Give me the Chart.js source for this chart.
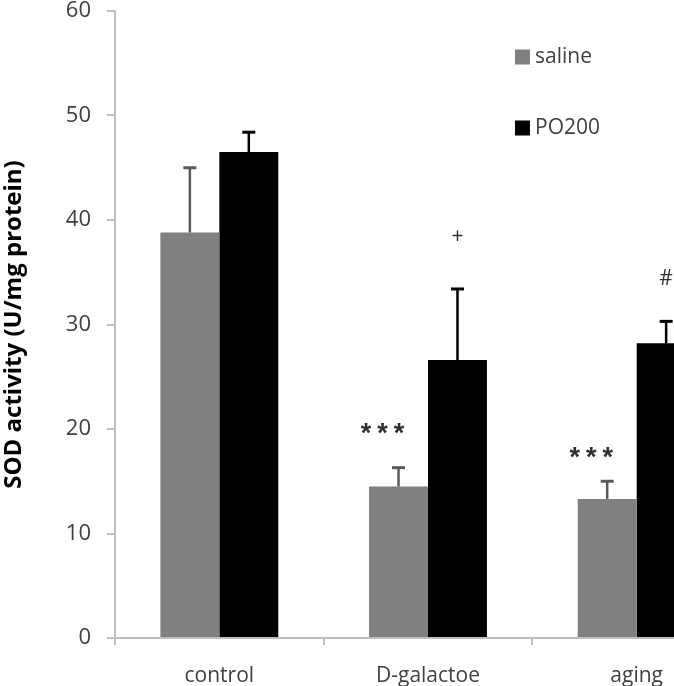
<!DOCTYPE html>
<html>
<head>
<meta charset="utf-8">
<script src="https://cdn.jsdelivr.net/npm/chart.js@4.4.1/dist/chart.umd.min.js"></script>
<style>
  html, body { margin: 0; padding: 0; background: #fff; overflow: hidden; }
  #wrap { width: 748px; height: 686px; }
</style>
</head>
<body>
<div id="wrap"><canvas id="c" width="748" height="686"></canvas></div>
<script>
// ---- data ----
const categories = ["control", "D-galactoe", "aging"];
const salineValues = [38.8, 14.5, 13.3];
const salineErrors = [6.2, 1.8, 1.7];
const po200Values = [46.5, 26.6, 28.2];
const po200Errors = [1.9, 6.8, 2.1];
const yTicks = [0, 10, 20, 30, 40, 50, 60];
const seriesLabels = ["saline", "PO200"];
// significance marks: [category index, dataset index, text, y value]
const marks = [
  [1, 0, "***", 20.0],
  [1, 1, "+", 38.4],
  [2, 0, "***", 17.7],
  [2, 1, "#", 34.4]
];

const FONT = "'Open Sans', 'Noto Sans', sans-serif";
const TEXT = "#404040";
const AXIS = "#bfbfbf";

const errorBars = {
  id: "errorBars",
  afterDatasetsDraw(chart) {
    const ctx = chart.ctx;
    const y = chart.scales.y;
    const errs = [salineErrors, po200Errors];
    const cols = ["#5a5a5a", "#000000"];
    chart.data.datasets.forEach((ds, di) => {
      const meta = chart.getDatasetMeta(di);
      meta.data.forEach((bar, i) => {
        const top = y.getPixelForValue(ds.data[i] + errs[di][i]);
        const base = y.getPixelForValue(ds.data[i]);
        ctx.save();
        ctx.strokeStyle = cols[di];
        ctx.lineWidth = 2.5;
        ctx.beginPath();
        ctx.moveTo(bar.x, base);
        ctx.lineTo(bar.x, top);
        ctx.stroke();
        ctx.lineWidth = 3;
        ctx.beginPath();
        ctx.moveTo(bar.x - 6.5, top);
        ctx.lineTo(bar.x + 6.5, top);
        ctx.stroke();
        ctx.restore();
      });
    });
    // significance marks
    ctx.save();
    ctx.fillStyle = "#303030";
    ctx.textAlign = "center";
    ctx.textBaseline = "middle";
    marks.forEach(([ci, di, txt, v]) => {
      const bar = chart.getDatasetMeta(di).data[ci];
      const py = y.getPixelForValue(v);
      if (txt === "***") {
        ctx.font = "bold 27px 'Liberation Sans', sans-serif";
        ctx.letterSpacing = "6px";
        ctx.fillText(txt, bar.x - 13, py + 6);
        ctx.letterSpacing = "0px";
      } else {
        ctx.font = "21px " + FONT;
        ctx.fillText(txt, bar.x, py);
      }
    });
    ctx.restore();
  }
};

const customLegend = {
  id: "customLegend",
  afterDraw(chart) {
    const ctx = chart.ctx;
    const a = chart.chartArea;
    ctx.save();
    ctx.font = "21px " + FONT;
    ctx.textBaseline = "middle";
    ctx.textAlign = "left";
    chart.data.datasets.forEach((ds, i) => {
      const bx = a.left + 400;
      const cy = a.top + 46 + i * 71;
      ctx.fillStyle = ds.backgroundColor;
      ctx.fillRect(bx, cy - 7.5, 15, 15);
      ctx.fillStyle = TEXT;
      ctx.fillText(ds.label, bx + 20, cy);
    });
    ctx.restore();
  }
};

new Chart(document.getElementById("c"), {
  type: "bar",
  data: {
    labels: categories,
    datasets: [
      { label: seriesLabels[0], data: salineValues, backgroundColor: "#808080", borderWidth: 0 },
      { label: seriesLabels[1], data: po200Values, backgroundColor: "#000000", borderWidth: 0 }
    ]
  },
  options: {
    responsive: false,
    animation: false,
    devicePixelRatio: 1,
    layout: { padding: { top: 11, right: 7, left: 0, bottom: 0 } },
    datasets: { bar: { categoryPercentage: 0.565, barPercentage: 1.0 } },
    plugins: { legend: { display: false }, tooltip: { enabled: false } },
    scales: {
      x: {
        grid: { display: true, drawOnChartArea: false, drawTicks: true, tickLength: 7, color: AXIS, lineWidth: 2, offset: true },
        border: { display: true, color: AXIS, width: 2 },
        ticks: { color: TEXT, font: { family: FONT, size: 21 }, padding: 18 },
        afterFit(s) { s.height = 48; s.paddingLeft = 0; s.paddingRight = 0; }
      },
      y: {
        min: 0, max: 60,
        afterBuildTicks(s) { s.ticks = yTicks.map(v => ({ value: v })); },
        grid: { display: true, drawOnChartArea: false, drawTicks: true, tickLength: 8, color: AXIS, lineWidth: 2 },
        border: { display: true, color: AXIS, width: 2 },
        ticks: { color: TEXT, font: { family: FONT, size: 22 }, padding: 16 },
        title: { display: true, text: "SOD activity (U/mg protein)", color: "#000", font: { family: FONT, size: 24, weight: "bold" }, padding: { top: 0, bottom: 0 } },
        afterFit(s) { s.width = 115; s.paddingTop = 0; s.paddingBottom = 0; }
      }
    }
  },
  plugins: [errorBars, customLegend]
});
</script>
</body>
</html>
